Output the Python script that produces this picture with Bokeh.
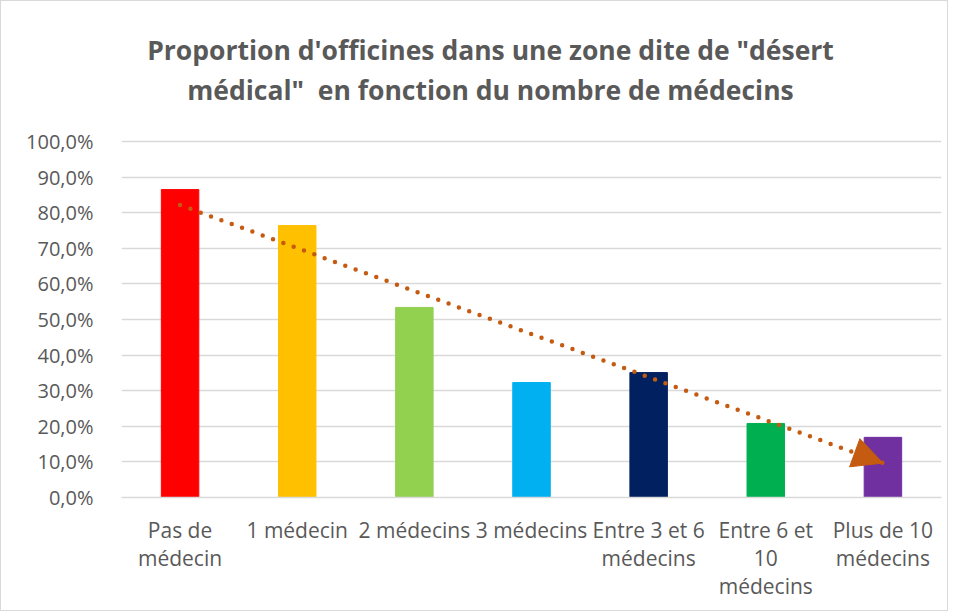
from bokeh.plotting import figure
from bokeh.models import (Range1d, FixedTicker, CustomJSTickFormatter, Label,
                          Arrow, NormalHead, ColumnDataSource)
from bokeh.embed import file_html
from bokeh.resources import INLINE
import numpy as np

categories = ["Pas de\nmédecin", "1 médecin", "2 médecins", "3 médecins",
              "Entre 3 et 6\nmédecins", "Entre 6 et\n10\nmédecins", "Plus de 10\nmédecins"]
values = [86.5, 76.4, 53.4, 32.3, 35.1, 20.8, 16.9]
colors = ["#FF0000", "#FFC000", "#92D050", "#00B0F0", "#002060", "#00B050", "#7030A0"]
y_ticks = [0, 10, 20, 30, 40, 50, 60, 70, 80, 90, 100]
title_lines = ["Proportion d'officines dans une zone dite de \"désert",
               "médical\"\u00a0 en fonction du nombre de médecins"]

xs = list(range(1, len(categories) + 1))

# frame extends to the top so the title (a Label in data units) sits inside it;
# grid lines are drawn only at the ticks (0..100 %)
p = figure(width=948, height=611, output_backend="svg", toolbar_location=None,
           x_range=Range1d(0.5, len(categories) + 0.5), y_range=Range1d(0, 137.1),
           min_border_left=120, min_border_right=8, min_border_top=8, min_border_bottom=115)
p.styles = {"border": "1px solid #D9D9D9"}
p.outline_line_color = None
p.background_fill_color = "white"
p.border_fill_color = "white"

src = ColumnDataSource(dict(x=xs, top=values, color=colors))
p.vbar(x="x", top="top", bottom=0, width=0.32, color="color", source=src)

# linear trendline (least squares on data)
a, b = np.polyfit(xs, values, 1)
tx = [xs[0], xs[-1]]
ty = [a * xs[0] + b, a * xs[-1] + b]
p.line(tx, ty, line_color="#C55A11", line_width=4.5, line_dash="0 11", line_cap="round")
x0 = xs[-1] - 0.25
p.add_layout(Arrow(end=NormalHead(size=30, fill_color="#C55A11", line_color="#C55A11"),
                   x_start=x0, y_start=a * x0 + b, x_end=xs[-1], y_end=ty[1],
                   line_alpha=0))

# axes
p.xaxis.ticker = FixedTicker(ticks=xs)
p.xaxis.major_label_overrides = {x: c for x, c in zip(xs, categories)}
p.xaxis.axis_line_color = "#D9D9D9"
p.xaxis.axis_line_width = 1.5
p.xaxis.major_tick_line_color = None
p.xaxis.minor_tick_line_color = None
p.xaxis.major_label_text_font = "Open Sans"
p.xaxis.major_label_text_font_size = "21px"
p.xaxis.major_label_text_line_height = 1.0
p.xaxis.major_label_text_color = "#595959"
p.xaxis.major_label_standoff = 12
p.xgrid.grid_line_color = None

p.yaxis.ticker = FixedTicker(ticks=y_ticks)
p.yaxis.formatter = CustomJSTickFormatter(code="return tick.toFixed(1).replace('.', ',') + '%';")
p.yaxis.axis_line_color = None
p.yaxis.major_tick_line_color = None
p.yaxis.minor_tick_line_color = None
p.yaxis.major_label_text_font = "Open Sans"
p.yaxis.major_label_text_font_size = "20px"
p.yaxis.major_label_text_color = "#595959"
p.yaxis.major_label_standoff = 22
p.ygrid.grid_line_color = "#D9D9D9"
p.ygrid.grid_line_width = 1.5

title_y = [125.8, 114.6]
for line, ty_ in zip(title_lines, title_y):
    p.add_layout(Label(x=3.65, y=ty_, text=line, text_align="center", text_baseline="middle",
                       text_font="Open Sans", text_font_style="bold",
                       text_font_size="26.5px", text_color="#595959"))

open("out.html", "w").write(file_html(p, INLINE))
